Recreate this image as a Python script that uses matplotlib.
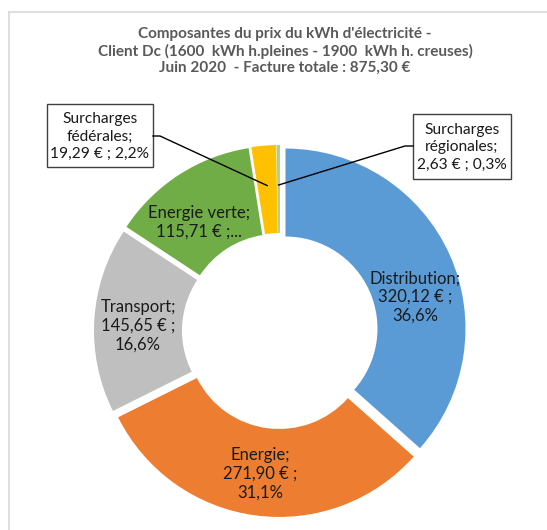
import numpy as np
import matplotlib
matplotlib.use("Agg")
from matplotlib import pyplot as plt
from matplotlib.lines import Line2D

# Composantes du prix (EUR), ordre horaire depuis midi
noms = ['Distribution', 'Energie', 'Transport', 'Energie verte',
        'Surcharges fédérales', 'Surcharges régionales']
montants = [320.12, 271.90, 145.65, 115.71, 19.29, 2.63]
couleurs = ['#5B9BD5', '#ED7D31', '#BFBFBF', '#70AD47', '#FFC000', '#A9D18E']

titre = ("Composantes du prix du kWh d'électricité -\n"
         "Client Dc (1600  kWh h.pleines - 1900  kWh h. creuses)\n"
         "Juin 2020  - Facture totale : 875,30 €")

W, H = 547, 530
plt.rcParams['font.family'] = ['Lato', 'DejaVu Sans']


def fr(v, nd=2):
    return f"{v:.{nd}f}".replace('.', ',')


def P(x, y):
    # coordonnees image (y vers le bas) -> donnees
    return x, H - y


total = sum(montants)
pcts = [m / total * 100 for m in montants]

etiquettes = [
    f"{noms[0]};\n{fr(montants[0])} € ;\n{fr(pcts[0], 1)}%",
    f"{noms[1]};\n{fr(montants[1])} € ;\n{fr(pcts[1], 1)}%",
    f"{noms[2]};\n{fr(montants[2])} € ;\n{fr(pcts[2], 1)}%",
    f"{noms[3]};\n{fr(montants[3])} € ;...",
    "Surcharges\nfédérales;\n" + f"{fr(montants[4])} € ; {fr(pcts[4], 1)}%",
    "Surcharges\nrégionales;\n" + f"{fr(montants[5])} € ; {fr(pcts[5], 1)}%",
]
pos_etiq = [(415, 297), (260, 474), (138, 326), (199, 222)]

fig = plt.figure(figsize=(W / 100, H / 100), dpi=100)
ax = fig.add_axes([0, 0, 1, 1])

centre = P(280, 331)
rayon = 180
largeur = 88
wedges, _ = ax.pie(montants, colors=couleurs, startangle=90, counterclock=False,
                   radius=rayon, center=centre, explode=[6] * len(montants),
                   wedgeprops=dict(width=largeur, linewidth=0), frame=True)
ax.set_xlim(0, W)
ax.set_ylim(0, H)
ax.axis('off')

# etiquettes dans l'anneau
for i in range(4):
    x, y = P(*pos_etiq[i])
    ax.text(x, y, etiquettes[i], ha='center', va='center', fontsize=12,
            color='#1a1a1a', linespacing=1.2)

# etiquettes encadrees + traits de rappel
boites = [(4, 104, 167, 47, 153, 'right'), (5, 114, 179, 413, 511, 'left')]
for i, ytop, ybot, xl, xr, cote in boites:
    xc = (xl + xr) / 2
    yc = (ytop + ybot) / 2
    ax.text(*P(xc, yc + 1), etiquettes[i], ha='center', va='center', fontsize=11.2,
            color='#1a1a1a', linespacing=1.28)
    ax.add_patch(plt.Rectangle(P(xl, ybot), xr - xl, ybot - ytop, fill=False,
                               edgecolor='#404040', linewidth=1))
    w = wedges[i]
    tm = np.radians((w.theta1 + w.theta2) / 2)
    r = w.r - largeur / 2 + 4
    ax_x = w.center[0] + r * np.cos(tm)
    ax_y = w.center[1] + r * np.sin(tm)
    if cote == 'right':
        bx, by = P(xr, 136)
        coude = (bx + 7, by)
    else:
        bx, by = P(xl, 146)
        coude = (bx - 8, by)
    ax.plot([bx, coude[0], ax_x], [by, coude[1], ax_y], color='black', linewidth=1)

ax.text(*P(285, 51), titre, ha='center', va='center', fontsize=11,
        fontweight='bold', color='#595959', linespacing=1.2)

# bord du cadre du graphique (partiel)
fig.add_artist(Line2D([9 / W, 1], [1 - 12 / H, 1 - 12 / H], color='#D9D9D9', linewidth=1.2))
fig.add_artist(Line2D([9 / W, 9 / W], [0, 1 - 12 / H], color='#D9D9D9', linewidth=1.2))

fig.savefig('out.png', dpi=100)
